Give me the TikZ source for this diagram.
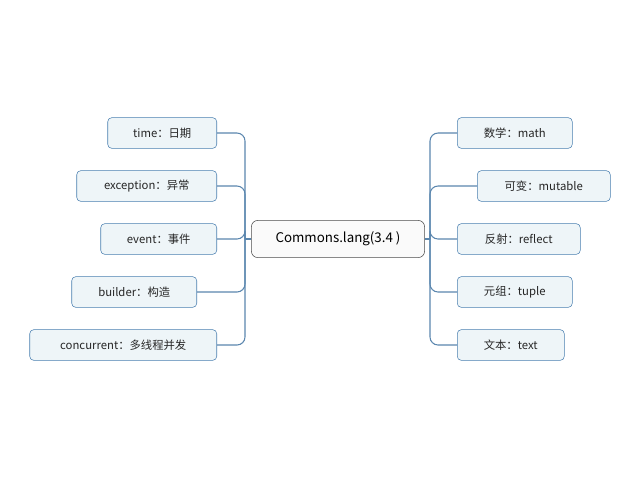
\documentclass[tikz,border=0pt]{standalone}
\usepackage{fontspec}
\setmainfont{Noto Sans CJK SC}
\usetikzlibrary{positioning}
\definecolor{topicfill}{HTML}{EEF5F8}
\definecolor{topicline}{HTML}{4A7FB0}
\definecolor{branchline}{HTML}{5A86AE}
\tikzset{
  topic/.style={rectangle, draw=topicline, fill=topicfill, rounded corners=3pt,
                minimum height=23pt, inner xsep=8pt, font=\fontsize{8.5}{10}\selectfont, text=black!85},
  lefttopic/.style={topic, anchor=east, minimum width=#1*0.75pt},
  righttopic/.style={topic, anchor=west, minimum width=#1*0.75pt},
  root/.style={rectangle, draw=black!70, fill=black!2, rounded corners=5pt,
               minimum height=28pt, minimum width=130pt, font=\fontsize{10}{12}\selectfont},
  branch/.style={draw=branchline, line width=0.8pt, rounded corners=6pt}
}
\begin{document}
\begin{tikzpicture}[x=0.75pt,y=-0.75pt]
\useasboundingbox (0,0) rectangle (640,480);
% root
\node[root] (lang) at (338,239) {Commons.lang(3.4 )};
% left side
\node[lefttopic=109] (time) at (217,133) {time：日期};
\node[lefttopic=140] (exception) at (217,186) {exception：异常};
\node[lefttopic=116] (event) at (217,239) {event：事件};
\node[lefttopic=125] (builder) at (197,292) {builder：构造};
\node[lefttopic=187] (concurrent) at (217,345) {concurrent：多线程并发};
% right side
\node[righttopic=115] (math) at (457,133) {数学：math};
\node[righttopic=133] (mutable) at (477,186) {可变：mutable};
\node[righttopic=123] (reflect) at (457,239) {反射：reflect};
\node[righttopic=115] (tuple) at (457,292) {元组：tuple};
\node[righttopic=107] (text) at (457,345) {文本：text};
% trunks
\coordinate (trunkL) at (245,239);
\coordinate (trunkR) at (430,239);
\draw[branch] (lang.west) -- (trunkL);
\draw[branch] (lang.east) -- (trunkR);
\foreach \n in {time,exception,event,builder,concurrent}
  \draw[branch] (\n.east) -| (trunkL);
\foreach \n in {math,mutable,reflect,tuple,text}
  \draw[branch] (\n.west) -| (trunkR);
\end{tikzpicture}
\end{document}
